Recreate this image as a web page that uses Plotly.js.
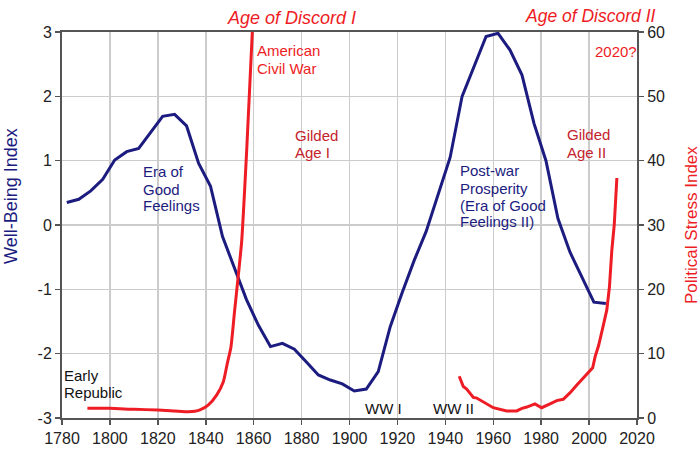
<!DOCTYPE html>
<html>
<head>
<meta charset="utf-8">
<script src="https://cdn.plot.ly/plotly-3.0.1.min.js"></script>
<style>
  html, body { margin: 0; padding: 0; background: #ffffff; }
  #chart { width: 700px; height: 454px; }
</style>
</head>
<body>
<div id="chart"></div>
<script>
// ---- Data ----
const wellBeingYears = [1782, 1787, 1792, 1797, 1802, 1807, 1812, 1817, 1822, 1827,
  1832, 1837, 1842, 1847, 1852, 1857, 1862, 1867, 1872, 1877,
  1882, 1887, 1892, 1897, 1902, 1907, 1912, 1917, 1922, 1927,
  1932, 1937, 1942, 1947, 1952, 1957, 1962, 1967, 1972, 1977,
  1982, 1987, 1992, 1997, 2002, 2007];
const wellBeing = [0.35, 0.40, 0.53, 0.71, 1.01, 1.14, 1.19, 1.44, 1.69, 1.72,
  1.54, 0.96, 0.60, -0.18, -0.66, -1.16, -1.56, -1.89, -1.84, -1.93,
  -2.13, -2.33, -2.41, -2.47, -2.58, -2.55, -2.28, -1.58, -1.05, -0.55,
  -0.10, 0.47, 1.05, 2.00, 2.46, 2.93, 2.98, 2.72, 2.33, 1.58,
  1.00, 0.10, -0.42, -0.80, -1.20, -1.22];

const stressYearsEarly = [1790.6, 1800, 1810, 1820, 1827, 1832.7, 1835.5, 1837.6, 1841,
  1844.6, 1847.3, 1849, 1850.5, 1852, 1853.6, 1855, 1857.1, 1859.5];
const stressEarly = [1.5, 1.5, 1.35, 1.25, 1.1, 0.98, 1.05, 1.25, 2.0,
  3.6, 5.6, 8.5, 11.0, 16.5, 22.2, 27.5, 41.7, 60.5];

const stressYearsLate = [1945.8, 1947.5, 1948.9, 1950.3, 1951.7, 1953.1, 1955.9, 1960,
  1965.6, 1969.8, 1972, 1974, 1977.4, 1980.2, 1983.7, 1986.5, 1989.2, 1992,
  1994.8, 1997.6, 2000.4, 2001.5, 2002.5, 2004, 2006, 2007.4, 2008.5, 2009.5,
  2010.5, 2011.6];
const stressLate = [6.5, 4.9, 4.5, 3.8, 3.2, 3.1, 2.5, 1.6,
  1.1, 1.1, 1.5, 1.7, 2.2, 1.6, 2.2, 2.7, 2.9, 3.9,
  5.1, 6.2, 7.2, 7.8, 9.5, 11.3, 14.5, 16.8, 20.4, 26.1,
  30.0, 37.3];

const xTickVals = [1780, 1800, 1820, 1840, 1860, 1880, 1900, 1920, 1940, 1960, 1980, 2000, 2020];
const leftTickVals = [-3, -2, -1, 0, 1, 2, 3];
const leftTickText = ['-3', '-2', '-1', '0', '1', '2', '3'];
const rightTickVals = [0, 10, 20, 30, 40, 50, 60];

// ---- Styling ----
const NAVY = '#1c1c80';
const RED = '#ee1c24';
const DARKRED = '#c4222c';
const FONT = 'Liberation Sans, Arial, Helvetica, sans-serif';

// plot area in pixels: left 62, right 637, top 32, bottom 418
const L = 62, R = 637, T = 32, B = 418;
function px(x) { return (x - L) / (R - L); }
function py(y) { return (B - y) / (B - T); }

function label(text, x, y, color, opts) {
  opts = opts || {};
  return Object.assign({
    text: text, xref: 'paper', yref: 'paper', x: px(x), y: py(y),
    xanchor: 'left', yanchor: 'middle', showarrow: false, borderpad: 0,
    font: { family: FONT, size: 15, color: color }
  }, opts);
}

const annotations = [
  label('<i>Age of Discord I</i>', 291, 18, RED, { xanchor: 'center', font: { family: FONT, size: 18, color: RED } }),
  label('<i>Age of Discord II</i>', 590, 16, RED, { xanchor: 'center', font: { family: FONT, size: 17.5, color: RED } }),
  label('American', 256, 51, RED),
  label('Civil War', 256, 68, RED),
  label('Gilded', 294, 135, DARKRED),
  label('Age I', 294, 152, DARKRED),
  label('Era of', 142, 172, NAVY),
  label('Good', 142, 189, NAVY),
  label('Feelings', 142, 205, NAVY),
  label('Early', 63, 375, '#111111'),
  label('Republic', 63, 392, '#111111'),
  label('WW I', 364, 408, '#111111'),
  label('WW II', 432, 408, '#111111'),
  label('Post-war', 459, 171, NAVY),
  label('Prosperity', 459, 188, NAVY),
  label('(Era of Good', 459, 205, NAVY),
  label('Feelings II)', 459, 221, NAVY),
  label('Gilded', 566, 134, DARKRED),
  label('Age II', 566, 152, DARKRED),
  label('2020?', 594, 52, RED),
  label('Well-Being Index', 11, 196, NAVY, { xanchor: 'center', textangle: -90, font: { family: FONT, size: 18, color: NAVY } }),
  label('Political Stress Index', 691, 225, RED, { xanchor: 'center', textangle: -90, font: { family: FONT, size: 17, color: RED } })
];

const traces = [
  {
    x: wellBeingYears, y: wellBeing, type: 'scatter', mode: 'lines',
    name: 'Well-Being Index', line: { color: NAVY, width: 3 }, yaxis: 'y'
  },
  {
    x: stressYearsEarly, y: stressEarly, type: 'scatter', mode: 'lines',
    name: 'Political Stress Index', line: { color: RED, width: 3, shape: 'spline', smoothing: 0.6 }, yaxis: 'y2'
  },
  {
    x: stressYearsLate, y: stressLate, type: 'scatter', mode: 'lines',
    name: 'Political Stress Index (late)', line: { color: RED, width: 3 }, yaxis: 'y2'
  }
];

const axisCommon = {
  ticks: 'outside', ticklen: 5, tickwidth: 1.5, tickcolor: '#555555',
  showline: true, linecolor: '#555555', linewidth: 2,
  tickfont: { family: FONT, size: 16, color: '#222222' },
  zeroline: false
};

const layout = {
  width: 700, height: 454,
  margin: { l: L, r: 700 - R, t: T, b: 454 - B, pad: 0 },
  paper_bgcolor: '#ffffff', plot_bgcolor: '#ffffff',
  showlegend: false,
  xaxis: Object.assign({}, axisCommon, {
    range: [1780, 2020], tickvals: xTickVals, mirror: true,
    showgrid: true, gridcolor: '#cccccc', gridwidth: 1.5
  }),
  yaxis: Object.assign({}, axisCommon, {
    range: [-3, 3], tickvals: leftTickVals, ticktext: leftTickText, tickmode: 'array',
    showgrid: true, gridcolor: '#cccccc', gridwidth: 1.5
  }),
  yaxis2: Object.assign({}, axisCommon, {
    range: [0, 60], tickvals: rightTickVals, overlaying: 'y', side: 'right',
    showgrid: false
  }),
  annotations: annotations
};

Plotly.newPlot('chart', traces, layout, { displayModeBar: false, staticPlot: true });
</script>
</body>
</html>
